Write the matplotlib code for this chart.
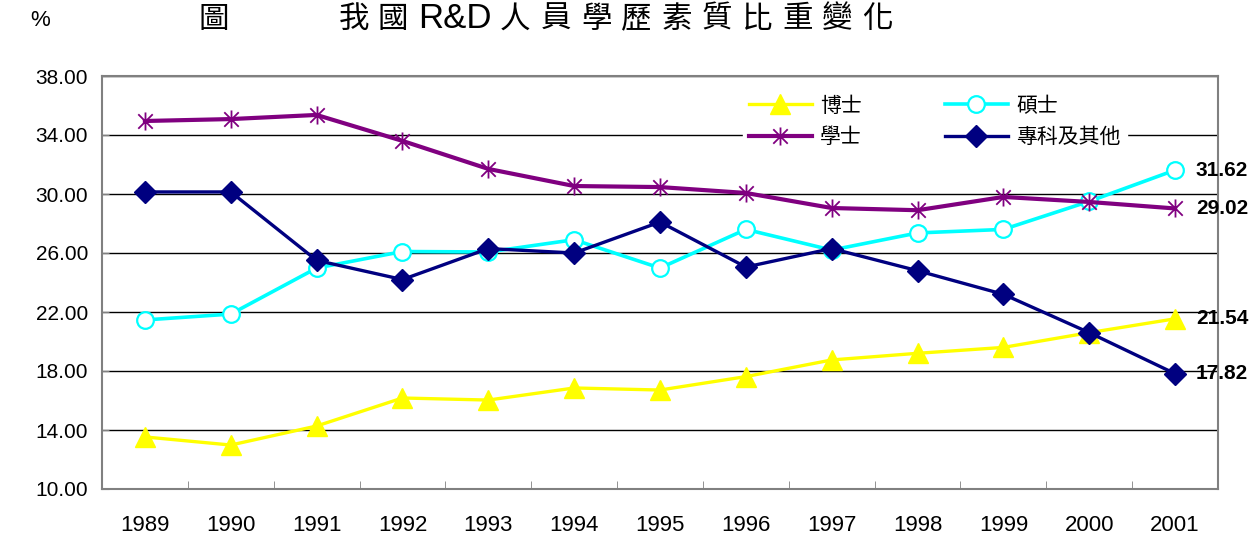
import matplotlib
matplotlib.use("Agg")
import matplotlib.pyplot as plt
import numpy as np
from matplotlib.path import Path

years = ["1989", "1990", "1991", "1992", "1993", "1994", "1995",
         "1996", "1997", "1998", "1999", "2000", "2001"]

phd = [13.53, 12.98, 14.27, 16.17, 16.03, 16.85, 16.71,
       17.62, 18.75, 19.20, 19.60, 20.60, 21.54]
master = [21.46, 21.86, 24.98, 26.10, 26.07, 26.90, 24.98,
          27.60, 26.20, 27.36, 27.60, 29.50, 31.62]
bachelor = [34.95, 35.08, 35.36, 33.60, 31.70, 30.54, 30.47,
            30.07, 29.05, 28.90, 29.80, 29.46, 29.02]
college = [30.14, 30.14, 25.50, 24.20, 26.30, 26.00, 28.10,
           25.05, 26.30, 24.80, 23.20, 20.60, 17.82]

series_names = ["博士", "碩士", "學士", "專科及其他"]
y_ticks = [10, 14, 18, 22, 26, 30, 34, 38]

CJK = ["Noto Sans CJK TC", "DejaVu Sans"]
LATIN = "Liberation Sans"
W, H = 1253, 536

# Excel-style star: vertical bar plus an X
star = Path(
    [(0, -1), (0, 1), (-0.8, -0.8), (0.8, 0.8), (-0.8, 0.8), (0.8, -0.8)],
    [Path.MOVETO, Path.LINETO, Path.MOVETO, Path.LINETO, Path.MOVETO, Path.LINETO],
)

fig = plt.figure(figsize=(W / 100, H / 100), dpi=100)
ax = fig.add_axes([102 / W, 1 - 489 / H, (1218 - 102) / W, (489 - 76) / H])

x = np.arange(len(years))

l_phd, = ax.plot(x, phd, color="#FFFF00", lw=2.4, marker="^", ms=15,
                 mec="#FFFF00", mfc="#FFFF00", zorder=3)
l_master, = ax.plot(x, master, color="#00FFFF", lw=2.6, marker="o", ms=12,
                    mfc="white", mec="#00FFFF", mew=1.6, zorder=3)
l_bach, = ax.plot(x, bachelor, color="#800080", lw=3.0, marker=star, ms=13,
                  mec="#800080", mew=1.3, zorder=3)
l_coll, = ax.plot(x, college, color="#000080", lw=2.4, marker="D", ms=11,
                  mfc="#000080", mec="#000080", zorder=4)

# end labels, drawn over the right frame
for vals in (master, bachelor, phd, college):
    ax.annotate(f"{vals[-1]:.2f}", xy=(x[-1], vals[-1]), xytext=(15, 0),
                textcoords="offset points", va="center", ha="left",
                fontsize=15, fontweight="bold", family=LATIN,
                annotation_clip=False, zorder=6)

ax.set_xlim(-0.5, len(years) - 0.5)
ax.set_ylim(10, 38)
ax.set_yticks(y_ticks)
ax.set_yticklabels([f"{v:.2f}" for v in y_ticks], family=LATIN, fontsize=15)
ax.set_xticks(x)
ax.set_xticklabels(years, family=LATIN, fontsize=16)
ax.set_xticks(np.arange(len(years) + 1) - 0.5, minor=True)
ax.tick_params(axis="x", which="major", length=0, pad=19)
ax.tick_params(axis="x", which="minor", direction="in", length=6, color="#808080")
ax.tick_params(axis="y", direction="in", length=5, color="#808080", pad=10)

ax.grid(axis="y", color="black", lw=1.0, zorder=0)
for s in ax.spines.values():
    s.set_color("#808080")
    s.set_linewidth(1.5)
    s.set_zorder(5)

leg = ax.legend([l_phd, l_bach, l_master, l_coll],
                [series_names[0], series_names[2], series_names[1], series_names[3]],
                ncol=2, loc="upper left", bbox_to_anchor=(0.565, 0.995),
                frameon=True, prop={"family": CJK, "size": 15},
                handlelength=3.0, columnspacing=4.0, labelspacing=0.45,
                borderpad=0.3, handletextpad=0.4)
leg.get_frame().set_edgecolor("white")
leg.get_frame().set_facecolor("white")
leg.get_frame().set_alpha(1.0)
leg.get_frame().set_boxstyle("square", pad=0)

# header texts
fig.text(40 / W, 1 - 21 / H, "%", family=LATIN, fontsize=16,
         ha="center", va="center")
fig.text(214 / W, 1 - 19 / H, "圖", family=CJK, fontsize=22,
         ha="center", va="center")
title_parts = ["我", "國", "R&D", "人", "員", "學", "歷", "素", "質", "比", "重", "變", "化"]
title_left = [339, 378, 418, 500, 541, 581, 621, 662, 702, 742, 782, 822, 862]
for part, left in zip(title_parts, title_left):
    if part == "R&D":
        fig.text(left / W, 1 - 18 / H, part, family=LATIN, fontsize=25,
                 ha="left", va="center")
    else:
        fig.text(left / W, 1 - 19 / H, part, family=CJK, fontsize=22,
                 ha="left", va="center")

fig.savefig("out.png", dpi=100)
